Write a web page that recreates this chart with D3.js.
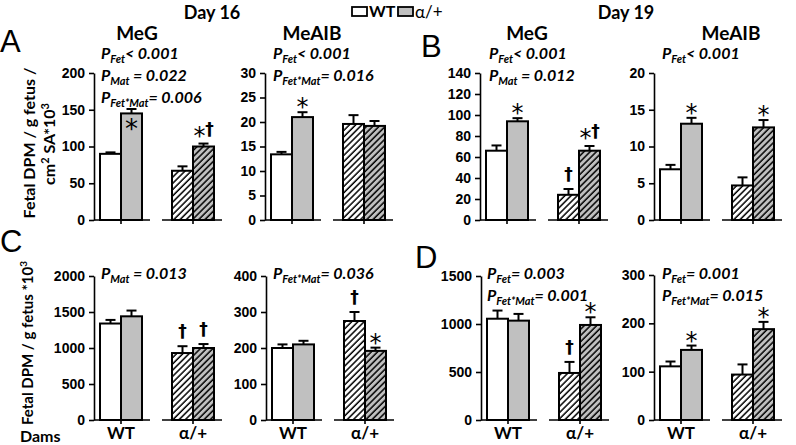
<!DOCTYPE html>
<html><head><meta charset="utf-8">
<script src="https://cdn.jsdelivr.net/npm/d3@7"></script>
<style>
body{margin:0;background:#fff}
svg{display:block}
.ttl{font-family:Lato,"Open Sans",sans-serif;font-weight:bold}
.pv{font-family:Lato,"Open Sans",sans-serif;font-weight:bold;font-style:italic;font-size:16px}
.sym{font-family:"DejaVu Sans",sans-serif}
</style>
</head><body>
<script>
// ---------- data ----------
const dams = ["WT", "α/+"];
const fetusGenotypes = ["WT", "α/+"];
// order in every series: [WT dam / WT fetus, WT dam / α/+ fetus, α/+ dam / WT fetus, α/+ dam / α/+ fetus]
const d16MeG = [90, 145, 67, 100];
const d16MeGErr = [2, 6, 6, 4];
const d16MeAIB = [13.4, 21.0, 19.6, 19.2];
const d16MeAIBErr = [0.5, 1.0, 1.8, 1.0];
const d19MeG = [66, 94, 24, 66];
const d19MeGErr = [5, 3, 5.5, 4.5];
const d19MeAIB = [6.9, 13.1, 4.7, 12.6];
const d19MeAIBErr = [0.6, 0.8, 1.1, 1.0];
const d16MeGFetus = [1340, 1440, 930, 1000];
const d16MeGFetusErr = [50, 80, 95, 55];
const d16MeAIBFetus = [200, 210, 275, 192];
const d16MeAIBFetusErr = [10, 10, 25, 9];
const d19MeGFetus = [1055, 1035, 490, 990];
const d19MeGFetusErr = [85, 70, 115, 80];
const d19MeAIBFetus = [111, 145, 94, 188];
const d19MeAIBFetusErr = [10, 9, 21, 15];

const ticksA1 = [0, 50, 100, 150, 200];
const ticksA2 = [0, 5, 10, 15, 20, 25, 30];
const ticksB1 = [0, 20, 40, 60, 80, 100, 120, 140];
const ticksB2 = [0, 5, 10, 15, 20];
const ticksC1 = [0, 500, 1000, 1500, 2000];
const ticksC2 = [0, 100, 200, 300, 400];
const ticksD1 = [0, 500, 1000, 1500];
const ticksD2 = [0, 100, 200, 300];

const annA1 = ["", "*", "", "*†"];
const annA2 = ["", "*", "", ""];
const annB1 = ["", "*", "†", "*†"];
const annB2 = ["", "*", "", "*"];
const annC1 = ["", "", "†", "†"];
const annC2 = ["", "", "†", "*"];
const annD1 = ["", "", "†", "*"];
const annD2 = ["", "*", "", "*"];

const pA1 = [["Fet", "< 0.001"], ["Mat", " = 0.022"], ["Fet*Mat", "= 0.006"]];
const pA2 = [["Fet", "< 0.001"], ["Fet*Mat", "= 0.016"]];
const pB1 = [["Fet", "< 0.001"], ["Mat", " = 0.012"]];
const pB2 = [["Fet", "< 0.001"]];
const pC1 = [["Mat", " = 0.013"]];
const pC2 = [["Fet*Mat", "= 0.036"]];
const pD1 = [["Fet", "= 0.003"], ["Fet*Mat", "= 0.001"]];
const pD2 = [["Fet", "= 0.001"], ["Fet*Mat", "= 0.015"]];

// ---------- layout ----------
const W = 796, H = 445;
const svg = d3.select("body").append("svg").attr("width", W).attr("height", H);
const defs = svg.append("defs");
function hatch(id, fill) {
  const p = defs.append("pattern").attr("id", id).attr("patternUnits", "userSpaceOnUse")
    .attr("width", 4.4).attr("height", 4.4).attr("patternTransform", "rotate(45)");
  p.append("rect").attr("width", 4.4).attr("height", 4.4).attr("fill", fill);
  p.append("line").attr("x1", 1).attr("y1", 0).attr("x2", 1).attr("y2", 4.4)
    .attr("stroke", "#000").attr("stroke-width", 1.5);
}
hatch("hw", "#fff");
hatch("hg", "#c0c0c0");

const panels = [
  {v: d16MeG, e: d16MeGErr, t: ticksA1, a: annA1, p: pA1, ax: 94, top: 73, bot: 220, title: "MeG", tx: 137, px: 101, inside: 1},
  {v: d16MeAIB, e: d16MeAIBErr, t: ticksA2, a: annA2, p: pA2, ax: 265, top: 73, bot: 220, title: "MeAIB", tx: 312, px: 273},
  {v: d19MeG, e: d19MeGErr, t: ticksB1, a: annB1, p: pB1, ax: 480, top: 73, bot: 220, title: "MeG", tx: 527, px: 489},
  {v: d19MeAIB, e: d19MeAIBErr, t: ticksB2, a: annB2, p: pB2, ax: 654, top: 73, bot: 220, title: "MeAIB", tx: 731, px: 662},
  {v: d16MeGFetus, e: d16MeGFetusErr, t: ticksC1, a: annC1, p: pC1, ax: 94, top: 276, bot: 420, px: 101, xl: true},
  {v: d16MeAIBFetus, e: d16MeAIBFetusErr, t: ticksC2, a: annC2, p: pC2, ax: 266, top: 276, bot: 420, px: 273, xl: true},
  {v: d19MeGFetus, e: d19MeGFetusErr, t: ticksD1, a: annD1, p: pD1, ax: 481, top: 276, bot: 420, px: 487, xl: true},
  {v: d19MeAIBFetus, e: d19MeAIBFetusErr, t: ticksD2, a: annD2, p: pD2, ax: 654, top: 275, bot: 420, px: 662, xl: true}
];

const bw = 21;
panels.forEach(P => {
  const g = svg.append("g");
  const y = d3.scaleLinear().domain([0, d3.max(P.t)]).range([P.bot, P.top]);
  const x = d3.scalePoint().domain(dams).range([P.ax + 27, P.ax + 99]);

  // bars
  const rows = [];
  dams.forEach((dm, i) => fetusGenotypes.forEach((fg, j) => {
    const k = i * 2 + j;
    rows.push({dm, fg, i, j, val: P.v[k], err: P.e[k], ann: P.a[k], k});
  }));
  const bx = d => x(d.dm) + (d.j === 0 ? -bw : 0);
  g.selectAll("rect.bar").data(rows).join("rect").attr("class", "bar")
    .attr("x", bx).attr("width", bw)
    .attr("y", d => y(d.val)).attr("height", d => P.bot - y(d.val))
    .attr("fill", d => d.i === 0 ? (d.j === 0 ? "#fff" : "#c0c0c0") : (d.j === 0 ? "url(#hw)" : "url(#hg)"))
    .attr("stroke", "#000").attr("stroke-width", 2);
  // error bars + annotations
  rows.forEach(d => {
    const cx = bx(d) + bw / 2;
    const capY = y(d.val + d.err);
    g.append("line").attr("x1", cx).attr("x2", cx).attr("y1", y(d.val)).attr("y2", capY)
      .attr("stroke", "#000").attr("stroke-width", 2);
    g.append("line").attr("x1", cx - 5).attr("x2", cx + 5).attr("y1", capY).attr("y2", capY)
      .attr("stroke", "#000").attr("stroke-width", 2);
    if (!d.ann) return;
    if (P.inside === d.k) {
      g.append("text").attr("class", "sym").attr("x", cx).attr("y", y(d.val) + 25)
        .attr("text-anchor", "middle").attr("font-size", 26).text("*");
      return;
    }
    if (d.ann === "*") {
      g.append("text").attr("class", "sym").attr("x", cx).attr("y", capY + 3)
        .attr("text-anchor", "middle").attr("font-size", 24).text("*");
    } else if (d.ann === "†") {
      g.append("text").attr("class", "sym").attr("x", cx).attr("y", capY - 9)
        .attr("text-anchor", "middle").attr("font-size", 17).attr("font-weight", "bold").text("†");
    } else {
      g.append("text").attr("class", "sym").attr("x", cx - 4).attr("y", capY + 0)
        .attr("text-anchor", "middle").attr("font-size", 24).text("*");
      g.append("text").attr("class", "sym").attr("x", cx + 6).attr("y", capY - 9)
        .attr("text-anchor", "middle").attr("font-size", 17).attr("font-weight", "bold").text("†");
    }
  });

  // x baseline segments
  dams.forEach((dm, i) => {
    const c = x(dm);
    g.append("line").attr("x1", i === 0 ? P.ax : c - 31).attr("x2", c + 29)
      .attr("y1", P.bot).attr("y2", P.bot).attr("stroke", "#000").attr("stroke-width", 1.6);
    g.append("line").attr("x1", c).attr("x2", c).attr("y1", P.bot).attr("y2", P.bot + 4)
      .attr("stroke", "#000").attr("stroke-width", 1.6);
    if (P.xl) {
      g.append("text").attr("class", "ttl").attr("x", c).attr("y", 439)
        .attr("text-anchor", "middle").attr("font-size", 17).text(dm);
    }
  });

  // y axis
  const yAxis = d3.axisLeft(y).tickValues(P.t).tickFormat(d => String(d))
    .tickSize(5).tickPadding(4).tickSizeOuter(0);
  const ga = g.append("g").attr("class", "yaxis").attr("transform", `translate(${P.ax},0)`).call(yAxis);
  ga.attr("font-family", null).attr("font-size", null);
  ga.select(".domain").attr("stroke", "#000").attr("stroke-width", 1.6);
  ga.selectAll(".tick line").attr("stroke", "#000").attr("stroke-width", 1.6);
  ga.selectAll(".tick text").attr("fill", "#000")
    .style("font-family", "'Liberation Sans', Arial, sans-serif")
    .style("font-weight", "bold").style("font-size", "14px");

  // title
  if (P.title) g.append("text").attr("class", "ttl").attr("x", P.tx).attr("y", 40)
    .attr("text-anchor", "middle").attr("font-size", 19).text(P.title);

  // p-values
  const py0 = P.top === 73 ? 59 : 279;
  P.p.forEach((pp, li) => {
    const t = g.append("text").attr("class", "pv").attr("x", P.px).attr("y", py0 + li * 22);
    t.append("tspan").text("P");
    t.append("tspan").attr("dy", 4).attr("font-size", 11).text(pp[0]);
    t.append("tspan").attr("dy", -4).text(pp[1]);
  });
});

// panel letters
[["A", 0, 52], ["B", 421, 57], ["C", 0, 252], ["D", 415, 268]].forEach(([l, lx, ly]) =>
  svg.append("text").attr("x", lx).attr("y", ly).attr("font-family", "Liberation Sans, Arial, sans-serif")
    .attr("font-size", 31).text(l));

// day titles
svg.append("text").attr("class", "ttl").attr("x", 212).attr("y", 19).attr("text-anchor", "middle").attr("font-size", 18).text("Day 16");
svg.append("text").attr("class", "ttl").attr("x", 626).attr("y", 19).attr("text-anchor", "middle").attr("font-size", 18).text("Day 19");

// legend
svg.append("rect").attr("x", 352).attr("y", 7).attr("width", 15).attr("height", 9).attr("fill", "#fff").attr("stroke", "#000").attr("stroke-width", 1.8);
svg.append("text").attr("class", "ttl").attr("x", 369).attr("y", 17).attr("font-size", 16).text(fetusGenotypes[0]);
svg.append("rect").attr("x", 398).attr("y", 7).attr("width", 15).attr("height", 9).attr("fill", "#c0c0c0").attr("stroke", "#000").attr("stroke-width", 1.8);
svg.append("text").attr("x", 415).attr("y", 18).attr("font-family", "Lato, sans-serif").attr("font-size", 17).text(fetusGenotypes[1]);

// y-axis labels
svg.append("text").attr("class", "ttl").attr("font-size", 16).attr("text-anchor", "middle")
  .attr("transform", "translate(35,143) rotate(-90)").text("Fetal DPM / g fetus /");
const yl2 = svg.append("text").attr("class", "ttl").attr("font-size", 16).attr("text-anchor", "middle")
  .attr("transform", "translate(55,144) rotate(-90)");
yl2.append("tspan").text("cm");
yl2.append("tspan").attr("dy", -6).attr("font-size", 11).text("2");
yl2.append("tspan").attr("dy", 6).text(" SA*10");
yl2.append("tspan").attr("dy", -6).attr("font-size", 11).text("3");
const yl3 = svg.append("text").attr("class", "ttl").attr("font-size", 15).attr("text-anchor", "middle")
  .attr("transform", "translate(33,343) rotate(-90)");
yl3.append("tspan").text("Fetal DPM / g fetus *10");
yl3.append("tspan").attr("dy", -6).attr("font-size", 10).text("3");

svg.append("text").attr("class", "ttl").attr("x", 20).attr("y", 442).attr("font-size", 16).text("Dams");
</script>
</body></html>
